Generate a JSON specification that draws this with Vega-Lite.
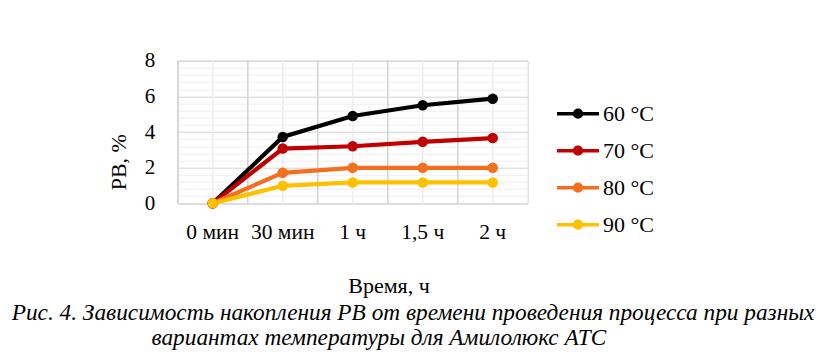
{
  "$schema": "https://vega.github.io/schema/vega-lite/v6.json",
  "width": 350,
  "height": 142.6,
  "autosize": "none",
  "padding": {"left": 177.7, "top": 60.7, "right": 301.3, "bottom": 151.7},
  "background": "white",
  "config": {
    "view": {"stroke": "#d4d4d4", "strokeWidth": 1},
    "font": "Liberation Serif",
    "axis": {"labelFont": "Liberation Serif", "titleFont": "Liberation Serif", "labelColor": "black", "titleColor": "black", "titleFontWeight": "normal"},
    "legend": {"labelFont": "Liberation Serif", "labelColor": "black"}
  },
  "title": {
    "text": "Рис. 4. Зависимость накопления РВ от времени проведения процесса при разных",
    "subtitle": "\u200b\u2003\u2003\u2003\u2003\u2003\u2003вариантах температуры для Амилолюкс АТС",
    "orient": "bottom",
    "anchor": "start",
    "frame": "group",
    "dx": -166,
    "offset": 6,
    "font": "Liberation Serif",
    "fontSize": 23.3,
    "fontStyle": "italic",
    "fontWeight": "normal",
    "color": "black",
    "subtitleFont": "Liberation Serif",
    "subtitleFontSize": 23.3,
    "subtitleFontStyle": "italic",
    "subtitleColor": "black",
    "subtitlePadding": 1
  },
  "data": {
    "values": [
      {"time": "0 мин", "temp": "60 °C", "rv": 0},
      {"time": "30 мин", "temp": "60 °C", "rv": 3.72},
      {"time": "1 ч", "temp": "60 °C", "rv": 4.9},
      {"time": "1,5 ч", "temp": "60 °C", "rv": 5.5},
      {"time": "2 ч", "temp": "60 °C", "rv": 5.87},
      {"time": "0 мин", "temp": "70 °C", "rv": 0},
      {"time": "30 мин", "temp": "70 °C", "rv": 3.07},
      {"time": "1 ч", "temp": "70 °C", "rv": 3.2},
      {"time": "1,5 ч", "temp": "70 °C", "rv": 3.45},
      {"time": "2 ч", "temp": "70 °C", "rv": 3.66},
      {"time": "0 мин", "temp": "80 °C", "rv": 0},
      {"time": "30 мин", "temp": "80 °C", "rv": 1.71},
      {"time": "1 ч", "temp": "80 °C", "rv": 1.99},
      {"time": "1,5 ч", "temp": "80 °C", "rv": 1.99},
      {"time": "2 ч", "temp": "80 °C", "rv": 1.99},
      {"time": "0 мин", "temp": "90 °C", "rv": 0},
      {"time": "30 мин", "temp": "90 °C", "rv": 0.98},
      {"time": "1 ч", "temp": "90 °C", "rv": 1.17},
      {"time": "1,5 ч", "temp": "90 °C", "rv": 1.17},
      {"time": "2 ч", "temp": "90 °C", "rv": 1.17}
    ]
  },
  "layer": [
    {
      "mark": {"type": "rule", "color": "#eeeeee", "strokeWidth": 1},
      "encoding": {
        "x": {"field": "time", "type": "ordinal", "sort": ["0 мин", "30 мин", "1 ч", "1,5 ч", "2 ч"], "scale": {"type": "band", "paddingInner": 0, "paddingOuter": 0}, "axis": {
            "title": "Время, ч",
            "titleFont": "Liberation Serif",
            "titleFontSize": 22,
            "titleX": 210.8,
            "titleY": 89,
            "titleBaseline": "alphabetic",
            "titleAlign": "center",
            "labelFont": "Liberation Serif",
            "labelFontSize": 21.5,
            "labelAngle": 0,
            "labelAlign": "center",
            "labelPadding": 18,
            "labelOverlap": false,
            "bandPosition": 0.5,
            "domain": false,
            "ticks": false,
            "grid": false
          }}
      }
    },
    {
      "mark": {"type": "rule", "color": "#d4d4d4", "strokeWidth": 1},
      "encoding": {
        "x": {"field": "time", "type": "ordinal", "sort": ["0 мин", "30 мин", "1 ч", "1,5 ч", "2 ч"], "bandPosition": 0, "axis": {
            "title": "Время, ч",
            "titleFont": "Liberation Serif",
            "titleFontSize": 22,
            "titleX": 210.8,
            "titleY": 89,
            "titleBaseline": "alphabetic",
            "titleAlign": "center",
            "labelFont": "Liberation Serif",
            "labelFontSize": 21.5,
            "labelAngle": 0,
            "labelAlign": "center",
            "labelPadding": 18,
            "labelOverlap": false,
            "bandPosition": 0.5,
            "domain": false,
            "ticks": false,
            "grid": false
          }}
      }
    },
    {
      "mark": {"type": "line", "strokeWidth": 4.2, "point": {"filled": true, "size": 110, "opacity": 1}},
      "encoding": {
        "x": {
          "field": "time",
          "type": "ordinal",
          "sort": ["0 мин", "30 мин", "1 ч", "1,5 ч", "2 ч"],
          "axis": {
            "title": "Время, ч",
            "titleFont": "Liberation Serif",
            "titleFontSize": 22,
            "titleX": 210.8,
            "titleY": 89,
            "titleBaseline": "alphabetic",
            "titleAlign": "center",
            "labelFont": "Liberation Serif",
            "labelFontSize": 21.5,
            "labelAngle": 0,
            "labelAlign": "center",
            "labelPadding": 18,
            "labelOverlap": false,
            "bandPosition": 0.5,
            "domain": false,
            "ticks": false,
            "grid": false
          }
        },
        "y": {
          "field": "rv",
          "type": "quantitative",
          "scale": {"domain": [0, 8], "nice": false, "zero": true},
          "axis": {
            "title": "РВ, %",
            "titleFont": "Liberation Serif",
            "titleFontSize": 22,
            "titleX": -52,
            "titleY": 101,
            "titleAngle": -90,
            "titleAlign": "center",
            "titleBaseline": "alphabetic",
            "values": [0, 0.4, 0.8, 1.2, 1.6, 2, 2.4, 2.8, 3.2, 3.6, 4, 4.4, 4.8, 5.2, 5.6, 6, 6.4, 6.8, 7.2, 7.6, 8],
            "labelExpr": "datum.value % 2 === 0 ? format(datum.value, 'd') : ''",
            "labelFont": "Liberation Serif",
            "labelFontSize": 21,
            "labelPadding": 23,
            "domain": false,
            "ticks": false,
            "grid": true,
            "gridColor": {"condition": {"test": "datum.value % 2 === 0", "value": "#d4d4d4"}, "value": "#eeeeee"},
            "gridWidth": 1
          }
        },
        "color": {
          "field": "temp",
          "type": "nominal",
          "scale": {"domain": ["60 °C", "70 °C", "80 °C", "90 °C"], "range": ["#000000", "#C00000", "#F36F1E", "#FFC000"]},
          "legend": {
            "title": null,
            "orient": "none",
            "legendX": 377.3,
            "legendY": 30,
            "padding": 0,
            "symbolType": "M-1,0L1,0M-0.16,0A0.16,0.16 0 1,1 0.16,0A0.16,0.16 0 1,1 -0.16,0Z",
            "symbolSize": 1764,
            "symbolStrokeWidth": 3.5,
            "labelFont": "Liberation Serif",
            "labelFontSize": 22,
            "labelOffset": 2,
            "rowPadding": 3,
            "encode": {
              "symbols": {
                "update": {
                  "fill": {"scale": "color", "field": "value"},
                  "stroke": {"scale": "color", "field": "value"},
                  "opacity": {"value": 1}
                }
              }
            }
          }
        }
      }
    }
  ]
}
